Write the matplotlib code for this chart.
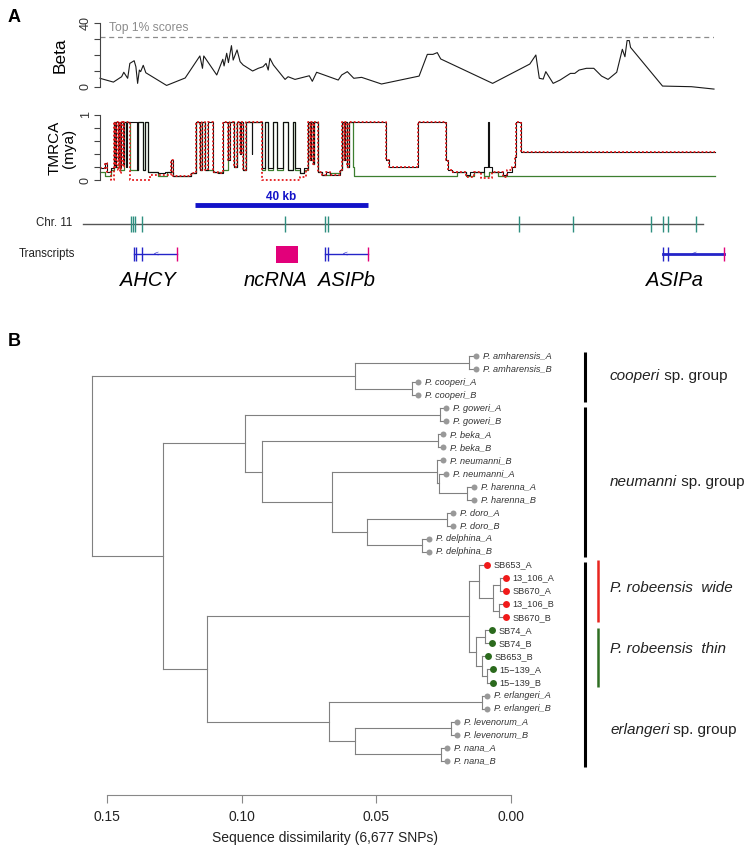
import matplotlib.pyplot as plt

plt.rcParams['font.family'] = ['Liberation Sans', 'DejaVu Sans']

# ---------------- panel A data (positions in kb) ----------------
beta_pos = [0, 3.1, 5.0, 5.5, 6.4, 6.9, 7.9, 8.3, 8.7, 9.1, 9.4, 10.0, 10.6, 15.4, 19.7,
            23.1, 23.7, 24.0, 27.0, 28.4, 28.7, 29.3, 29.7, 30.4, 30.8, 31.7, 32.4, 33.1,
            35.3, 36.6, 37.7, 38.4, 38.9, 39.3, 40.1, 42.8, 43.5, 45.1, 48.4, 49.1, 50.1,
            55.1, 55.9, 57.2, 58.7, 60.5, 65.1, 73.8, 75.7, 77.0, 78.0, 78.8, 90.8, 99.4,
            100.8, 101.6, 102.5, 103.1, 104.8, 106.4, 108.8, 109.8, 110.8, 112.5, 114.2,
            116.0, 117.5, 119.5, 120.8, 121.4, 121.9, 122.4, 122.7, 130.1, 136.8, 142.0]
beta_val = [5.3, 2.9, 6.3, 9.1, 5.3, 14.7, 16.4, 12.6, 2.1, 10.5, 9.5, 13.5, 8.8, 0.8, 5.5,
            19.4, 11.6, 19.4, 7.4, 17.3, 13.1, 21.1, 15.2, 25.9, 16.8, 23.2, 15.8, 13.7,
            9.9, 11.6, 12.6, 14.7, 10.5, 17.9, 13.7, 4.6, 6.3, 4.6, 6.9, 3.4, 9.1,
            4.2, 7.4, 9.5, 5.3, 5.9, 1.7, 6.7, 20.4, 20.4, 21.5, 17.5, 2.1, 14.3,
            20.0, 5.3, 4.8, 9.5, 2.1, 4.2, 8.4, 8.4, 10.5, 11.6, 11.6,
            6.7, 4.6, 9.1, 23.6, 18.9, 29.1, 29.1, 24.8, 0.4, 0.0, -1.5]
top1_cut = 31.5

tm_black_pos = [0, 1.16, 1.62, 2.54, 3.24, 3.58, 3.81, 4.16, 4.39, 4.74, 4.97, 5.32, 5.55, 5.90,
                6.13, 8.55, 8.90, 9.94, 10.40, 11.10, 13.41, 15.03, 16.53, 16.88, 21.04, 22.20,
                23.24, 23.58, 24.39, 24.97, 26.13, 27.28, 28.44, 29.71, 30.06, 31.10, 31.67,
                32.37, 32.60, 33.18, 33.87, 35.14, 35.26, 37.45, 38.15, 38.96, 40.00, 41.04,
                42.31, 43.58, 44.62, 45.20, 46.24, 47.17, 48.09, 48.55, 48.90, 49.25, 49.59,
                50.40, 51.33, 52.25, 53.18, 55.49, 55.95, 56.41, 56.64, 57.11, 57.57, 66.12,
                66.82, 73.52, 80.11, 80.46, 81.38, 84.62, 85.54, 88.78, 89.82, 89.94, 90.63,
                93.17, 94.10, 95.25, 95.95, 96.29, 97.34, 142.2]
tm_black_val = [0.18, 0.26, 0.12, 0.18, 0.89, 0.2, 0.89, 0.3, 0.89, 0.18, 0.89, 0.25, 0.89, 0.2,
                0.89, 0.15, 0.89, 0.15, 0.89, 0.13, 0.1, 0.13, 0.3, 0.06, 0.1, 0.89,
                0.15, 0.89, 0.15, 0.89, 0.12, 0.1, 0.89, 0.3, 0.89, 0.2, 0.89,
                0.4, 0.89, 0.15, 0.89, 0.4, 0.89, 0.18, 0.89, 0.18, 0.89, 0.18,
                0.89, 0.15, 0.89, 0.18, 0.1, 0.18, 0.89, 0.3, 0.89, 0.25, 0.89,
                0.12, 0.08, 0.12, 0.08, 0.15, 0.89, 0.3, 0.89, 0.2, 0.89, 0.3,
                0.2, 0.89, 0.3, 0.15, 0.12, 0.08, 0.12, 0.2, 0.89, 0.2, 0.12,
                0.08, 0.12, 0.2, 0.35, 0.89, 0.43, 0.43]

tm_red_pos = [0, 1.16, 1.62, 2.54, 3.24, 3.58, 3.81, 4.16, 4.39, 4.74, 4.97, 5.32, 5.55, 6.94,
              11.56, 16.53, 16.88, 21.04, 22.20, 23.24, 23.58, 24.39, 24.97, 26.13, 27.28,
              28.44, 29.71, 30.06, 31.10, 31.67, 32.37, 32.60, 33.18, 33.87, 37.45, 46.24,
              47.60, 48.09, 48.55, 48.90, 49.25, 49.59, 50.40, 51.33, 52.25, 53.18, 55.49,
              55.95, 56.41, 56.64, 57.11, 57.57, 66.12, 66.82, 73.52, 80.11, 80.46, 81.38,
              84.62, 86.50, 88.00, 90.63, 93.17, 94.10, 95.25, 95.95, 96.29, 97.34, 142.2]
tm_red_val = [0.18, 0.26, 0.12, 0.0, 0.89, 0.2, 0.89, 0.15, 0.89, 0.1, 0.89, 0.2, 0.89, 0.0,
              0.08, 0.3, 0.06, 0.1, 0.89, 0.15, 0.89, 0.15, 0.89, 0.12, 0.1,
              0.89, 0.3, 0.89, 0.2, 0.89, 0.4, 0.89, 0.15, 0.89, 0.0, 0.04,
              0.15, 0.89, 0.3, 0.89, 0.25, 0.89, 0.12, 0.08, 0.12, 0.08, 0.15,
              0.89, 0.3, 0.89, 0.2, 0.89, 0.3, 0.2, 0.89, 0.3, 0.15, 0.12,
              0.05, 0.12, 0.03, 0.12, 0.05, 0.15, 0.2, 0.35, 0.89, 0.43, 0.43]

tm_green_pos = [0, 1.16, 2.54, 3.24, 3.58, 4.39, 4.74, 5.55, 6.94, 8.90, 9.94, 10.40, 11.10,
                13.41, 15.50, 16.88, 21.04, 22.20, 23.24, 23.58, 24.39, 26.13, 28.44, 29.71,
                31.10, 31.67, 33.18, 33.87, 37.45, 38.15, 38.96, 40.00, 41.04, 42.31, 43.58,
                44.62, 45.20, 46.24, 47.17, 48.09, 48.55, 48.90, 49.25, 49.59, 50.40, 51.33,
                53.18, 55.49, 55.95, 56.41, 56.64, 57.11, 57.57, 58.40, 58.80, 82.50, 84.60,
                86.50, 88.80, 90.00, 92.00, 142.2]
tm_green_val = [0.12, 0.06, 0.15, 0.89, 0.2, 0.89, 0.15, 0.89, 0.15, 0.89, 0.15, 0.89, 0.13,
                0.06, 0.13, 0.06, 0.1, 0.89, 0.15, 0.89, 0.15, 0.12, 0.15, 0.89,
                0.2, 0.89, 0.15, 0.89, 0.15, 0.89, 0.15, 0.89, 0.15, 0.89, 0.15,
                0.89, 0.15, 0.1, 0.15, 0.89, 0.3, 0.89, 0.25, 0.89, 0.12, 0.08,
                0.1, 0.15, 0.89, 0.3, 0.89, 0.2, 0.89, 0.2, 0.06, 0.12, 0.06,
                0.12, 0.06, 0.12, 0.06, 0.06]

bar_start, bar_end = 22.0, 62.0          # 40 kb scale bar
chr_start, chr_end = -3.9, 139.4
chr_marks = [7.2, 7.6, 8.2, 9.7, 42.8, 52.1, 52.7, 96.9, 109.5, 127.4, 130.1, 131.3, 137.8]

gene_start = [7.8, 52.1, 130.1]
gene_end = [17.7, 62.0, 144.3]
gene_exons = [[7.8, 8.3, 9.8], [52.1, 52.7], [130.1, 131.4]]
gene_arrow = [13.0, 56.7, 137.5]
gene_lw = [1.0, 1.0, 2.0]
nc_start, nc_end = 40.6, 45.7
label_names = ['AHCY', 'ncRNA', 'ASIPb', 'ASIPa']
label_pos = [11.1, 40.5, 56.9, 132.9]

# ---------------- panel B data ----------------
tip_names = ['P. amharensis_A', 'P. amharensis_B', 'P. cooperi_A', 'P. cooperi_B',
             'P. goweri_A', 'P. goweri_B', 'P. beka_A', 'P. beka_B',
             'P. neumanni_B', 'P. neumanni_A', 'P. harenna_A', 'P. harenna_B',
             'P. doro_A', 'P. doro_B', 'P. delphina_A', 'P. delphina_B',
             'SB653_A', '13_106_A', 'SB670_A', '13_106_B', 'SB670_B',
             'SB74_A', 'SB74_B', 'SB653_B', '15\u2212139_A', '15\u2212139_B',
             'P. erlangeri_A', 'P. erlangeri_B', 'P. levenorum_A', 'P. levenorum_B',
             'P. nana_A', 'P. nana_B']
tip_d = [0.0131, 0.0131, 0.0346, 0.0346, 0.0242, 0.0242, 0.0251, 0.0251,
         0.0253, 0.0242, 0.0136, 0.0136, 0.0214, 0.0214, 0.0305, 0.0305,
         0.0090, 0.0019, 0.0019, 0.0019, 0.0019,
         0.0072, 0.0072, 0.0086, 0.0068, 0.0068,
         0.0090, 0.0090, 0.0201, 0.0201, 0.0238, 0.0238]
tip_group = ['o'] * 16 + ['w'] * 5 + ['t'] * 5 + ['o'] * 6

clades = {
    'amh': (['P. amharensis_A', 'P. amharensis_B'], 0.0155),
    'coo': (['P. cooperi_A', 'P. cooperi_B'], 0.0368),
    'cooperi_grp': (['amh', 'coo'], 0.0580),
    'gow': (['P. goweri_A', 'P. goweri_B'], 0.0263),
    'bek': (['P. beka_A', 'P. beka_B'], 0.0272),
    'har': (['P. harenna_A', 'P. harenna_B'], 0.0162),
    'neuA_har': (['P. neumanni_A', 'har'], 0.0268),
    'neu': (['P. neumanni_B', 'neuA_har'], 0.0276),
    'dor': (['P. doro_A', 'P. doro_B'], 0.0236),
    'del': (['P. delphina_A', 'P. delphina_B'], 0.0329),
    'dor_del': (['dor', 'del'], 0.0534),
    'neu_dd': (['neu', 'dor_del'], 0.0665),
    'bek_rest': (['bek', 'neu_dd'], 0.0926),
    'neumanni_grp': (['gow', 'bek_rest'], 0.0988),
    'w1': (['13_106_A', 'SB670_A'], 0.0041),
    'w2': (['13_106_B', 'SB670_B'], 0.0043),
    'w12': (['w1', 'w2'], 0.0068),
    'wide': (['SB653_A', 'w12'], 0.0118),
    't1': (['SB74_A', 'SB74_B'], 0.0096),
    't2': (['15\u2212139_A', '15\u2212139_B'], 0.0090),
    't3': (['SB653_B', 't2'], 0.0109),
    'thin': (['t1', 't3'], 0.0130),
    'rob': (['wide', 'thin'], 0.0155),
    'erl': (['P. erlangeri_A', 'P. erlangeri_B'], 0.0109),
    'lev': (['P. levenorum_A', 'P. levenorum_B'], 0.0223),
    'nan': (['P. nana_A', 'P. nana_B'], 0.0260),
    'lev_nan': (['lev', 'nan'], 0.0578),
    'erlangeri_grp': (['erl', 'lev_nan'], 0.0676),
    'rob_erl': (['rob', 'erlangeri_grp'], 0.1129),
    'neu_erl': (['neumanni_grp', 'rob_erl'], 0.1293),
    'root': (['cooperi_grp', 'neu_erl'], 0.1554),
}

grp_italic = ['cooperi', 'neumanni', 'P. robeensis  wide', 'P. robeensis  thin', 'erlangeri']
grp_plain = [' sp. group', ' sp. group', '', '', ' sp. group']
grp_label_y = [1.53, 9.62, 17.8, 22.4, 28.6]
grp_spans = [(-0.33, 3.5), (3.9, 15.39), (15.77, 31.47)]
sub_spans = [(15.6, 20.37), (20.83, 25.35)]
sub_colors = ['#e8251f', '#2f6e22']

# ---------------- figure ----------------
W, H = 750, 856
fig = plt.figure(figsize=(W / 100, H / 100), dpi=100)


def box(l, t, r, b):
    return [l / W, 1 - b / H, (r - l) / W, (b - t) / H]


def ftext(x, y, s, **kw):
    fig.text(x / W, 1 - y / H, s, **kw)


axis_col = '#444444'
xmax = 142.0

ftext(14, 18, 'A', fontsize=13, fontweight='bold', ha='center', va='center')
ftext(14, 342, 'B', fontsize=13, fontweight='bold', ha='center', va='center')

# Beta
ax = fig.add_axes(box(100, 23.3, 714, 86.7))
ax.patch.set_alpha(0)
ax.plot(beta_pos, beta_val, color='#1a1a1a', lw=0.8, clip_on=False)
ax.axhline(top1_cut, color='#8c8c8c', lw=0.9, ls=(0, (4, 3)))
ax.text(2.1, 36.8, 'Top 1% scores', color='#8c8c8c', fontsize=8.7, va='center')
ax.set_xlim(0, xmax)
ax.set_ylim(0, 40)
for s in ['top', 'right', 'bottom']:
    ax.spines[s].set_visible(False)
ax.spines['left'].set_color(axis_col)
ax.spines['left'].set_linewidth(0.8)
ax.set_xticks([])
ax.set_yticks([0, 10, 20, 30, 40])
ax.set_yticklabels(['0', '', '', '', '40'], rotation=90, va='center', color='#333333')
ax.tick_params(axis='y', length=4, width=0.8, color=axis_col, labelsize=9, pad=2)
ftext(60, 55, 'Beta', rotation=90, ha='center', va='center', fontsize=12.5)

# TMRCA
ax2 = fig.add_axes(box(100, 114.7, 714, 180))
ax2.patch.set_alpha(0)
ax2.step(tm_green_pos, tm_green_val, where='post', color='#3d7f30', lw=0.9, clip_on=False)
ax2.step(tm_black_pos, tm_black_val, where='post', color='#111111', lw=0.8, clip_on=False)
ax2.step(tm_red_pos, tm_red_val, where='post', color='#e31a1c', lw=1.3,
         ls=(0, (1, 1.2)), clip_on=False)
ax2.set_xlim(0, xmax)
ax2.set_ylim(0, 1)
for s in ['top', 'right', 'bottom']:
    ax2.spines[s].set_visible(False)
ax2.spines['left'].set_color(axis_col)
ax2.spines['left'].set_linewidth(0.8)
ax2.set_xticks([])
ax2.set_yticks([0, 0.2, 0.4, 0.6, 0.8, 1.0])
ax2.set_yticklabels(['0', '', '', '', '', '1'], rotation=90, va='center', color='#333333')
ax2.tick_params(axis='y', length=4, width=0.8, color=axis_col, labelsize=9, pad=2)
ftext(62, 148, 'TMRCA\n(mya)', rotation=90, ha='center', va='center', fontsize=11,
      linespacing=1.05)

# scale bar, chromosome, transcripts
ax3 = fig.add_axes(box(100, 190, 714, 300))
ax3.set_xlim(0, xmax)
ax3.set_ylim(300, 190)
ax3.axis('off')
blue = '#2424c8'
pink = '#e2007a'
ax3.plot([bar_start, bar_end], [204.5, 204.5], color='#1212c8', lw=3.5,
         solid_capstyle='butt', clip_on=False)
ax3.text((bar_start + bar_end) / 2, 197, '40 kb', color='#1212c8', fontweight='bold',
         fontsize=8.5, ha='center', va='center')
ax3.plot([chr_start, chr_end], [223.5, 223.5], color='#555555', lw=1, clip_on=False)
ax3.vlines(chr_marks, 215.5, 232, color='#2f8f80', lw=1, clip_on=False)
ax3.text(-6.5, 223.5, 'Chr. 11', ha='right', va='center', fontsize=8.3, color='#222222')
ax3.text(-5.7, 254, 'Transcripts', ha='right', va='center', fontsize=8.3, color='#222222')
for g0, g1, ex, ar, lw in zip(gene_start, gene_end, gene_exons, gene_arrow, gene_lw):
    ax3.plot([g0, g1], [254, 254], color=blue, lw=lw, clip_on=False)
    ax3.vlines(ex, 247, 261, color=blue, lw=1, clip_on=False)
    ax3.vlines([g1], 247, 261, color=pink, lw=1, clip_on=False)
    ax3.text(ar, 253.6, '<', color=blue, fontsize=6, ha='center', va='center')
ax3.fill_between([nc_start, nc_end], 246, 263, color=pink, lw=0)
for nm, x in zip(label_names, label_pos):
    ax3.text(x, 281, nm, style='italic', fontsize=14.5, ha='center', va='center')

# tree
axt = fig.add_axes(box(60, 345, 740, 775))
axt.set_xlim(0.16745, -0.08503)
axt.set_ylim(32.08, -0.842)
axt.axis('off')
tree_col = '#808080'
tip_y = {n: i for i, n in enumerate(tip_names)}
tip_x = dict(zip(tip_names, tip_d))


def draw(node):
    if node in tip_y:
        return tip_x[node], tip_y[node]
    kids, h = clades[node]
    ys = []
    for k in kids:
        kx, ky = draw(k)
        axt.plot([h, kx], [ky, ky], color=tree_col, lw=0.8)
        ys.append(ky)
    axt.plot([h, h], [min(ys), max(ys)], color=tree_col, lw=0.8)
    return h, sum(ys) / len(ys)


draw('root')
dot_col = {'o': '#999999', 'w': '#f01a1a', 't': '#2b6a1d'}
for n, d, g in zip(tip_names, tip_d, tip_group):
    y = tip_y[n]
    axt.plot(d, y, 'o', color=dot_col[g], ms=4.3 if g == 'o' else 5, mec='none', zorder=3)
    axt.annotate(n, (d, y), xytext=(5, 0), textcoords='offset points', va='center',
                 fontsize=6.6, color='#333333',
                 style='italic' if n.startswith('P.') else 'normal')

br_x, sub_x, lab_x = -0.02748, -0.03219, -0.03676
for y0, y1 in grp_spans:
    axt.plot([br_x, br_x], [y0, y1], color='black', lw=2.2, solid_capstyle='butt')
for (y0, y1), c in zip(sub_spans, sub_colors):
    axt.plot([sub_x, sub_x], [y0, y1], color=c, lw=1.8, solid_capstyle='butt')
for it, pl, y in zip(grp_italic, grp_plain, grp_label_y):
    t = axt.text(lab_x, y, it, style='italic', fontsize=11, va='center', color='#222222')
    if pl:
        axt.annotate(pl, xy=(1, 0), xycoords=t, va='bottom', ha='left', fontsize=11,
                     color='#222222')

# scale axis
axs = fig.add_axes(box(107, 770, 511, 795))
axs.patch.set_alpha(0)
axs.set_xlim(0.15, 0.0)
axs.set_yticks([])
for s in ['top', 'right', 'left']:
    axs.spines[s].set_visible(False)
axs.spines['bottom'].set_color('#888888')
axs.set_xticks([0.15, 0.10, 0.05, 0.00])
axs.set_xticklabels(['0.15', '0.10', '0.05', '0.00'])
axs.tick_params(axis='x', length=6, width=0.8, color='#888888', labelsize=10, pad=5,
                labelcolor='#222222')
ftext(325, 838, 'Sequence dissimilarity (6,677 SNPs)', ha='center', va='center',
      fontsize=10, color='#222222')

fig.savefig('out.png', dpi=100)
